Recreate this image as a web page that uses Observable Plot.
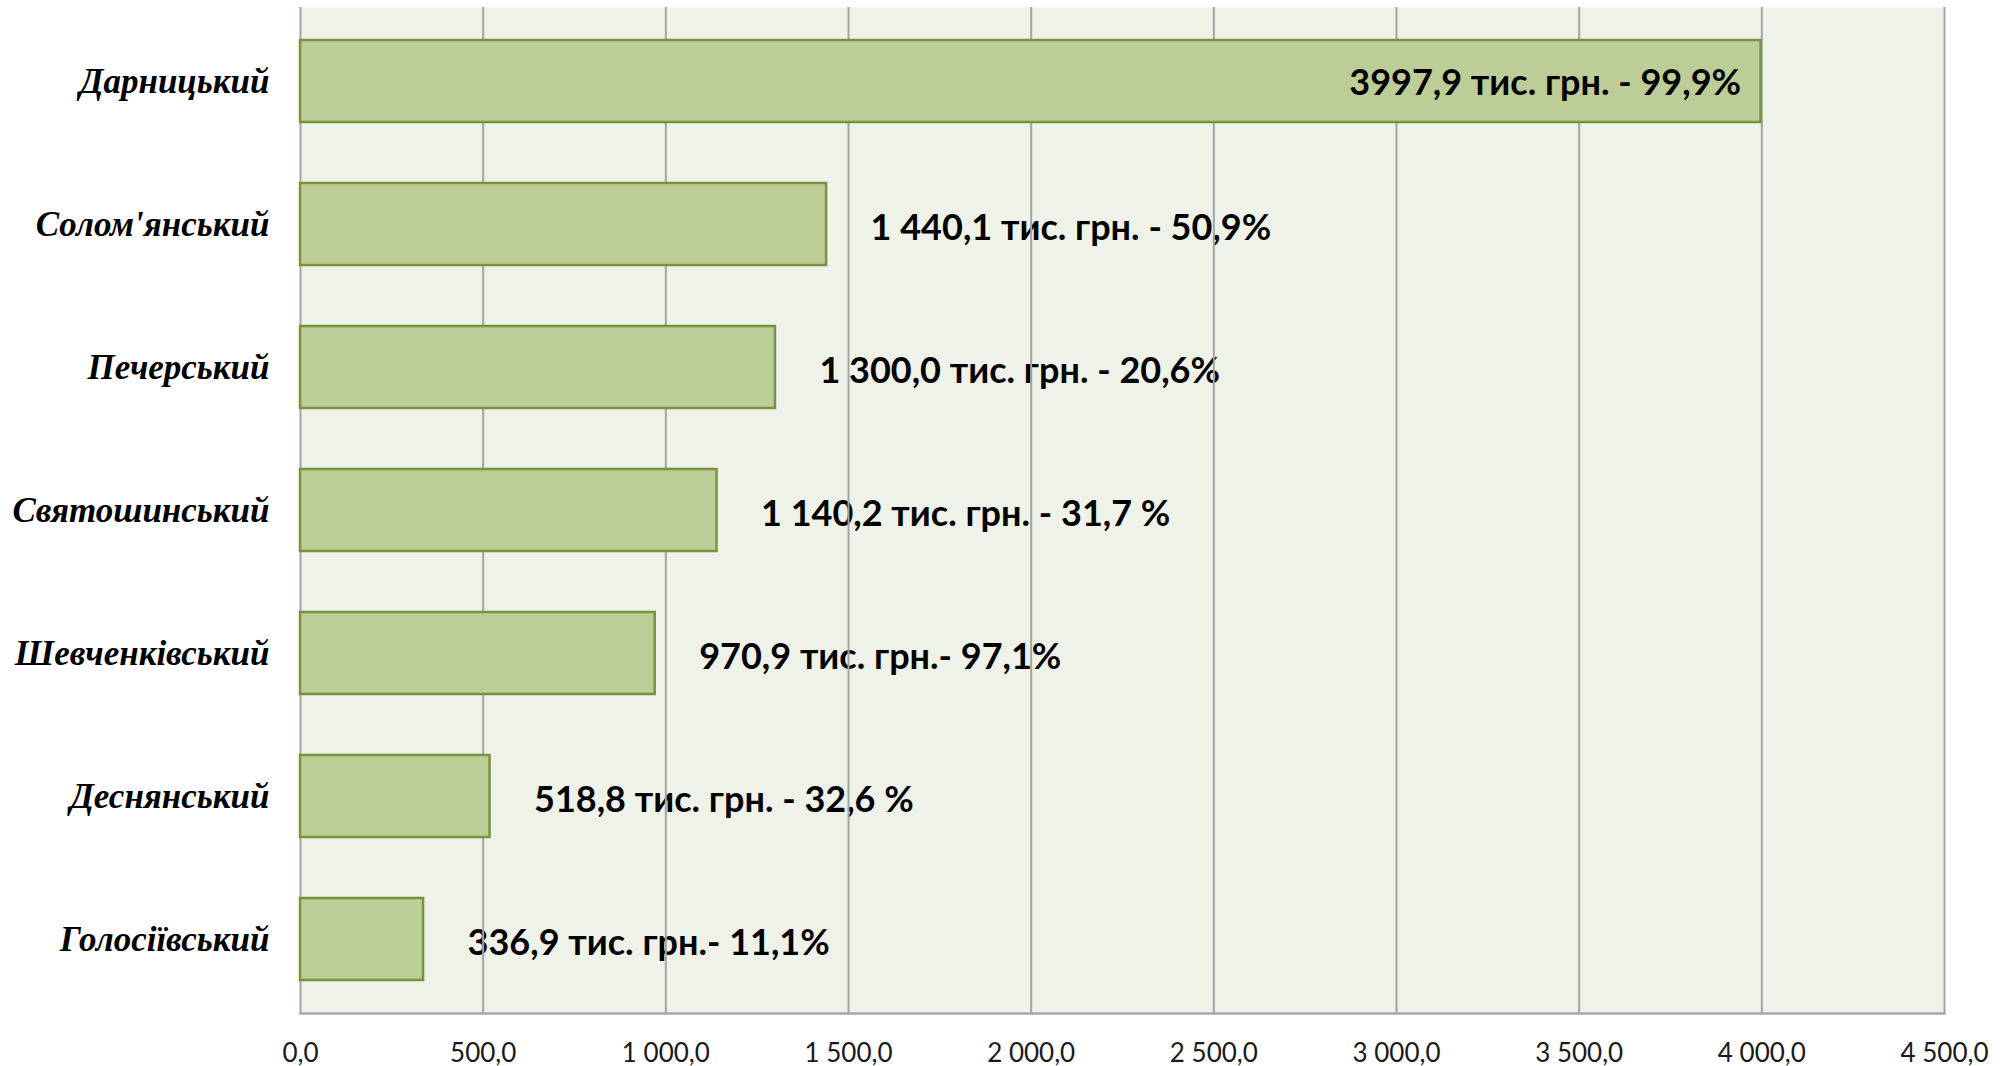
<!DOCTYPE html>
<html>
<head>
<meta charset="utf-8">
<script src="https://cdn.jsdelivr.net/npm/d3@7"></script>
<script src="https://cdn.jsdelivr.net/npm/@observablehq/plot@0.6"></script>
<style>
  html, body { margin: 0; padding: 0; background: #ffffff; }
  #chart svg { display: block; }
</style>
</head>
<body>
<div id="chart"></div>
<script>
// Data
const districts = ["Дарницький", "Солом'янський", "Печерський", "Святошинський", "Шевченківський", "Деснянський", "Голосіївський"];
const amounts = [3997.9, 1440.1, 1300.0, 1140.2, 970.9, 518.8, 336.9];
const labels = [
  "3997,9 тис. грн. - 99,9%",
  "1 440,1 тис. грн. - 50,9%",
  "1 300,0 тис. грн. - 20,6%",
  "1 140,2 тис. грн. - 31,7 %",
  "970,9 тис. грн.- 97,1%",
  "518,8 тис. грн. - 32,6 %",
  "336,9 тис. грн.- 11,1%"
];
const xTicks = [0, 500, 1000, 1500, 2000, 2500, 3000, 3500, 4000, 4500];
const xDomain = [0, 4500];
const insideIndex = 0; // label drawn inside the longest bar

const rows = districts.map((d, i) => ({district: d, amount: amounts[i], label: labels[i], inside: i === insideIndex}));

const locale = d3.formatLocale({decimal: ",", thousands: "\u00a0", grouping: [3]});
const fmt = locale.format(",.1f");

const chart = Plot.plot({
  width: 2006,
  height: 1066,
  marginLeft: 300,
  marginRight: 62,
  marginTop: 7,
  marginBottom: 53,
  style: {background: "#ffffff", overflow: "visible"},
  x: {domain: xDomain, ticks: xTicks},
  y: {domain: districts, paddingInner: 0.43, paddingOuter: 0.215},
  marks: [
    Plot.frame({fill: "#eff2e8", stroke: null}),
    Plot.text(rows.filter(d => !d.inside), {
      x: "amount", y: "district", text: "label",
      textAnchor: "start", dx: 44, dy: 4,
      fontFamily: "Lato", fontWeight: "bold", fontSize: 36, fill: "#000000"
    }),
    Plot.gridX(xTicks, {stroke: "#a3a3a3", strokeOpacity: 1, strokeWidth: 2}),
    Plot.frame({anchor: "bottom", stroke: "#a8a8a8", strokeWidth: 2.5}),
    Plot.barX(rows, {
      x: "amount", y: "district",
      fill: "#bccd98", stroke: "#77933c", strokeWidth: 2.5
    }),
    Plot.text(rows.filter(d => d.inside), {
      x: "amount", y: "district", text: "label",
      textAnchor: "end", dx: -20, dy: 2,
      fontFamily: "Lato", fontWeight: "bold", fontSize: 36, fill: "#000000"
    }),
    Plot.axisX(xTicks, {
      tickSize: 0, tickPadding: 30, tickFormat: fmt,
      fontFamily: "Lato", fontSize: 26, fill: "#1a1a1a", label: null
    }),
    Plot.axisY({
      tickSize: 0, tickPadding: 31, label: null,
      fontFamily: "Liberation Serif", fontWeight: "bold", fontStyle: "italic",
      fontSize: 35, fill: "#000000"
    })
  ]
});

document.getElementById("chart").appendChild(chart);
</script>
</body>
</html>
